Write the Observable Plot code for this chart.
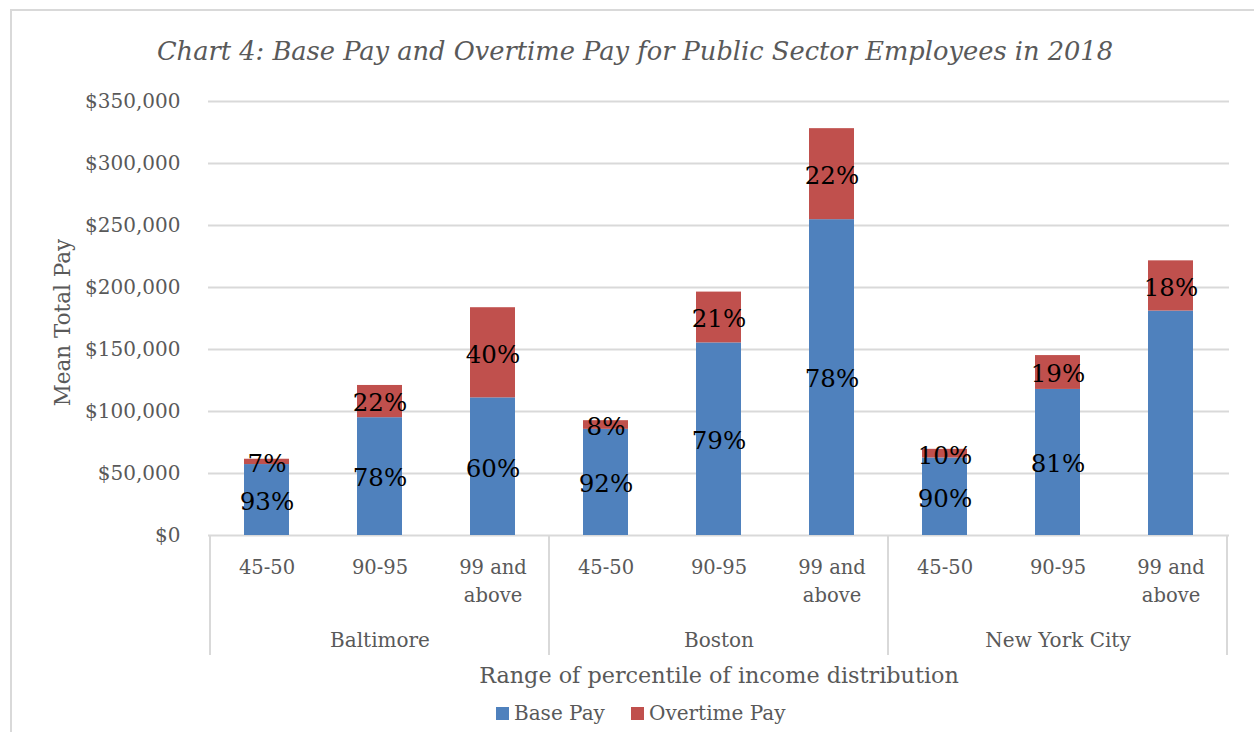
<!DOCTYPE html>
<html>
<head>
<meta charset="utf-8">
<script src="https://cdn.jsdelivr.net/npm/d3@7"></script>
<script src="https://cdn.jsdelivr.net/npm/@observablehq/plot@0.6"></script>
<style>
  html, body { margin: 0; padding: 0; background: #fff; overflow: hidden; width: 1254px; height: 732px; }
  #frame { position: absolute; left: 10px; top: 9px; width: 1400px; height: 900px;
           border-top: 2px solid #d9d9d9; border-left: 2px solid #d9d9d9; box-sizing: border-box; }
  #wrap { position: relative; width: 1254px; }
  #title { height: 80px; box-sizing: border-box; padding-top: 36px; padding-left: 16px; text-align: center;
           font-family: "DejaVu Serif", serif; font-style: italic; font-size: 25.7px; line-height: 30px; color: #595959; }
  #chart svg { display: block; }
  #legend { position: relative; height: 40px; font-family: "DejaVu Serif", serif; font-size: 20px; color: #595959; }
  .item { position: absolute; top: 9px; display: flex; align-items: center; white-space: nowrap; }
  .sw { width: 13px; height: 13px; margin-right: 5px; }
</style>
</head>
<body>
<div id="frame"></div>
<div id="wrap">
  <div id="title">Chart 4: Base Pay and Overtime Pay for Public Sector Employees in 2018</div>
  <div id="chart"></div>
  <div id="legend"></div>
</div>
<script>
// ---- data ----
const cities = ["Baltimore", "Boston", "New York City"];
const ranges = ["45-50", "90-95", "99 and above"];
const rangeLabels = ["45-50", "90-95", "99 and\nabove"];
const series = ["Base Pay", "Overtime Pay"];
const colors = ["#4f81bd", "#c0504d"];
// values in city order, each with ranges in order
const basePay = [57200, 95000, 111000, 85600, 155300, 254700, 62500, 117800, 181000];
const overtimePay = [4300, 26000, 72700, 7000, 41000, 73400, 7000, 27300, 40500];
const baseLabels = ["93%", "78%", "60%", "92%", "79%", "78%", "90%", "81%", ""];
const overtimeLabels = ["7%", "22%", "40%", "8%", "21%", "22%", "10%", "19%", "18%"];
const yTicks = [0, 50000, 100000, 150000, 200000, 250000, 300000, 350000];

// ---- build table ----
const keys = [];
const rows = [];
cities.forEach((c, ci) => ranges.forEach((r, ri) => {
  const i = ci * 3 + ri;
  const key = c + "|" + r;
  keys.push(key);
  rows.push({key, city: c, range: r, rangeLabel: rangeLabels[ri], series: series[0], value: basePay[i], label: baseLabels[i]});
  rows.push({key, city: c, range: r, rangeLabel: rangeLabels[ri], series: series[1], value: overtimePay[i], label: overtimeLabels[i]});
}));
const tickRows = rows.filter(d => d.series === series[0]);
const groupRows = cities.map((c, ci) => ({city: c, key: keys[ci * 3 + 1]}));

const serif = "DejaVu Serif, serif";
const gray = "#595959";

const plot = Plot.plot({
  width: 1254,
  height: 612,
  marginLeft: 208,
  marginRight: 25,
  marginTop: 21,
  marginBottom: 157,
  style: {fontFamily: serif, background: "transparent"},
  x: {domain: keys, paddingInner: 0.6, paddingOuter: 0.3, axis: null},
  y: {domain: [0, 350000], axis: null},
  color: {domain: series, range: colors},
  marks: [
    Plot.gridY(yTicks, {stroke: "#d9d9d9", strokeOpacity: 1, strokeWidth: 2}),
    Plot.axisY(yTicks, {tickSize: 0, tickPadding: 28, tickFormat: d => "$" + d3.format(",")(d),
      fontSize: 20, fill: gray, label: null}),
    Plot.barY(rows, Plot.stackY({x: "key", y: "value", z: "series", fill: "series", order: series})),
    Plot.text(rows, Plot.stackY({x: "key", y: "value", z: "series", text: "label", order: series,
      fontSize: 24.5, dy: 2, fill: "#000"})),
    Plot.text(tickRows, {x: "key", text: "rangeLabel", frameAnchor: "bottom", lineAnchor: "top",
      dy: 18, fontSize: 19.5, lineHeight: 1.45, fill: gray}),
    Plot.text(groupRows, {x: "key", text: "city", frameAnchor: "bottom", dy: 111,
      fontSize: 20, fill: gray}),
    Plot.text(["Range of percentile of income distribution"], {frameAnchor: "bottom", dy: 147,
      fontSize: 22.3, fill: gray}),
    Plot.text(["Mean Total Pay"], {frameAnchor: "left", textAnchor: "middle", rotate: -90, dx: -145, dy: 4,
      fontSize: 21.5, fill: gray})
  ]
});
document.getElementById("chart").appendChild(plot);

// group separators on the category axis, from the library's x and y scales
const xs = plot.scale("x");
const ys = plot.scale("y");
const pad = (xs.step - xs.bandwidth) / 2;
const y0 = ys.apply(0);
const edges = cities.map((c, ci) => xs.apply(keys[ci * 3]) - pad);
edges.push(xs.apply(keys[keys.length - 1]) + xs.bandwidth + pad);
const g = d3.select(plot).append("g");
g.selectAll("line").data(edges).join("line")
  .attr("x1", d => d).attr("x2", d => d)
  .attr("y1", y0).attr("y2", y0 + 120)
  .attr("stroke", "#d9d9d9").attr("stroke-width", 2);

// legend
const legend = d3.select("#legend");
const lx = [496, 631];
series.forEach((s, i) => {
  const it = legend.append("div").attr("class", "item").style("left", lx[i] + "px");
  it.append("div").attr("class", "sw").style("background", colors[i]);
  it.append("span").text(s);
});
</script>
</body>
</html>
